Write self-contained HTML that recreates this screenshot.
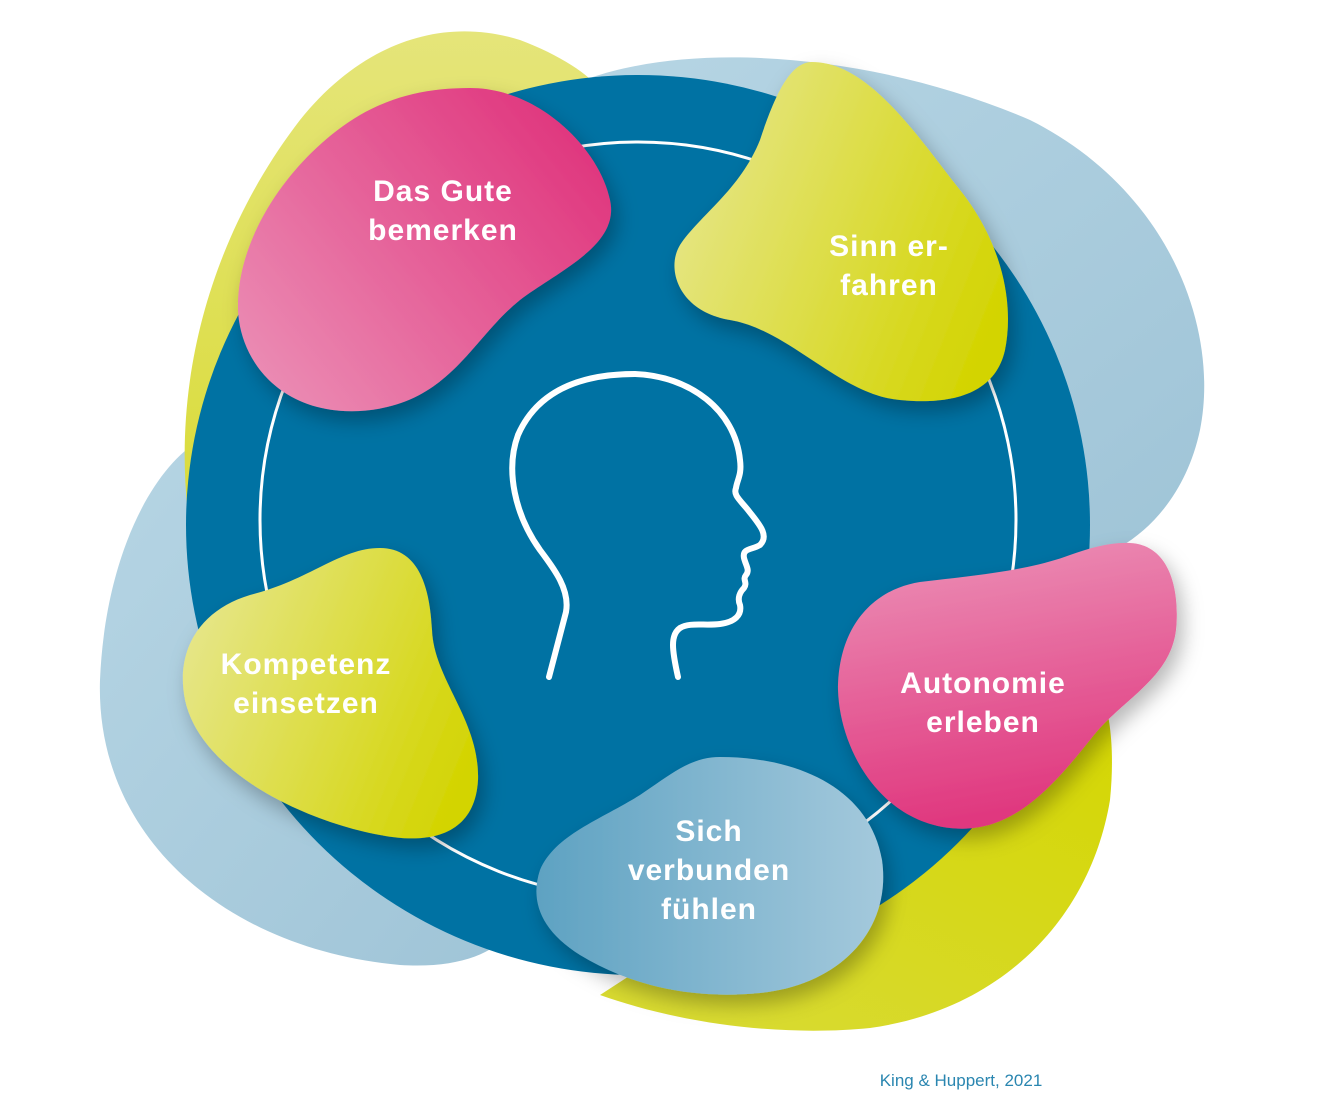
<!DOCTYPE html>
<html><head><meta charset="utf-8">
<style>
html,body{margin:0;padding:0;background:#fff;}
svg{display:block;}
.t{font-family:"Liberation Sans",sans-serif;font-weight:bold;font-size:30px;fill:#fff;text-anchor:middle;letter-spacing:1px;}
</style></head><body>
<svg width="1340" height="1100" viewBox="0 0 1340 1100" xmlns="http://www.w3.org/2000/svg">
<defs>
<filter id="sh" x="-20%" y="-20%" width="150%" height="150%">
<feDropShadow dx="6" dy="10" stdDeviation="10" flood-color="#000" flood-opacity="0.28"/>
</filter>
<linearGradient id="pk1" x1="0" y1="1" x2="1" y2="0.3"><stop offset="0" stop-color="#ec93b8"/><stop offset="1" stop-color="#e0387f"/></linearGradient>
<linearGradient id="pk2" x1="0" y1="0" x2="0.2" y2="1"><stop offset="0" stop-color="#ec93b8"/><stop offset="1" stop-color="#e0387f"/></linearGradient>
<linearGradient id="yl" x1="0" y1="0.3" x2="1" y2="0.7"><stop offset="0" stop-color="#e6e68a"/><stop offset="1" stop-color="#d3d400"/></linearGradient>
<linearGradient id="yl2" x1="0" y1="0" x2="0" y2="1"><stop offset="0" stop-color="#e5e57a"/><stop offset="1" stop-color="#d8da30"/></linearGradient>
<linearGradient id="yl3" x1="1" y1="0" x2="0.3" y2="1"><stop offset="0" stop-color="#d4d600"/><stop offset="1" stop-color="#d8da30"/></linearGradient>
<linearGradient id="lb" x1="0" y1="0.5" x2="1" y2="0.5"><stop offset="0" stop-color="#5ea2c2"/><stop offset="1" stop-color="#a4c9dc"/></linearGradient>
<linearGradient id="lbb" x1="0" y1="0" x2="1" y2="1"><stop offset="0" stop-color="#b6d5e4"/><stop offset="1" stop-color="#9fc4d7"/></linearGradient>
</defs>

<path d="M590,78 C700,40 880,55 1030,120 C1170,190 1220,330 1200,430 C1185,500 1140,545 1090,560 L1000,420 Z" fill="url(#lbb)"/>
<path d="M200,440 C150,470 105,560 100,680 C95,840 230,950 400,965 C480,970 520,940 520,900 L300,600 Z" fill="url(#lbb)"/>
<path d="M200,580 C160,420 200,250 300,120 C360,45 440,15 520,40 C560,55 590,75 600,90 L380,300 Z" fill="url(#yl2)"/>
<path d="M600,995 C700,1030 800,1035 870,1028 C1000,1010 1090,920 1110,800 C1115,750 1110,710 1100,690 L900,800 Z" fill="url(#yl3)"/>

<ellipse cx="638" cy="525" rx="452" ry="450" fill="#0072a3"/>
<circle cx="638" cy="520" r="378" fill="none" stroke="#fff" stroke-width="3"/>

<path d="M549,677 L566,612 C570,590 555,570 540,550 C515,515 505,470 518,435 C540,385 590,374 635,374 C690,376 735,410 740,460 C742,475 737,480 736,488 C733,495 740,500 748,510 C758,523 770,535 760,545 C752,550 742,548 744,558 C746,566 750,570 746,575 C742,580 748,582 744,588 C740,592 737,598 740,605 C742,615 735,622 720,624 C705,626 690,622 680,628 C670,635 672,650 678,677" fill="none" stroke="#fff" stroke-width="6" stroke-linecap="round" stroke-linejoin="round"/>

<g filter="url(#sh)">
<path d="M470,88 C540,88 600,150 610,200 C620,245 560,270 520,300 C470,340 450,405 360,411 C280,415 240,360 238,310 C236,230 300,150 360,115 C395,95 430,88 470,88 Z" fill="url(#pk1)"/>
<path d="M812,62 C870,62 920,140 960,190 C1000,240 1015,300 1005,350 C995,395 950,405 900,400 C840,395 790,330 730,320 C680,312 665,270 680,245 C700,215 740,190 760,140 C775,95 790,62 812,62 Z" fill="url(#yl)"/>
<path d="M380,548 C420,548 430,590 432,630 C434,680 480,720 478,780 C475,835 430,845 380,835 C300,820 200,770 185,700 C175,650 200,610 250,595 C310,580 340,548 380,548 Z" fill="url(#yl)"/>
<path d="M1130,543 C1170,545 1180,590 1176,630 C1170,680 1120,700 1090,740 C1050,790 1010,835 950,828 C880,820 840,750 838,690 C838,630 870,590 920,582 C980,575 1030,570 1070,555 C1090,548 1110,542 1130,543 Z" fill="url(#pk2)"/>
<path d="M720,757 C800,757 870,790 882,860 C892,930 840,985 760,993 C690,1000 630,985 580,955 C540,930 530,900 540,870 C555,835 600,820 640,795 C670,775 690,757 720,757 Z" fill="url(#lb)"/>
</g>

<text class="t" x="443" y="201">Das Gute</text>
<text class="t" x="443" y="240">bemerken</text>
<text class="t" x="889" y="256">Sinn er-</text>
<text class="t" x="889" y="295">fahren</text>
<text class="t" x="306" y="674">Kompetenz</text>
<text class="t" x="306" y="713">einsetzen</text>
<text class="t" x="983" y="693">Autonomie</text>
<text class="t" x="983" y="732">erleben</text>
<text class="t" x="709" y="841">Sich</text>
<text class="t" x="709" y="880">verbunden</text>
<text class="t" x="709" y="919">fühlen</text>

<text x="961" y="1086" font-family="Liberation Sans, sans-serif" font-size="17" fill="#2a86b0" text-anchor="middle">King &amp; Huppert, 2021</text>
</svg>
</body></html>
